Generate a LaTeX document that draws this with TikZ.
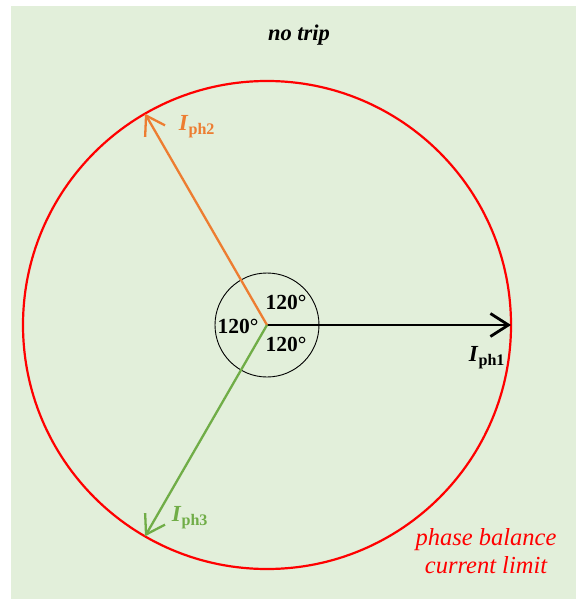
\documentclass[tikz,border=0pt]{standalone}
\usepackage{fontspec}
\setmainfont{Liberation Serif}
\usetikzlibrary{arrows.meta,positioning}
\definecolor{bgfill}{HTML}{E2EFDA}
\definecolor{phorange}{HTML}{ED7D31}
\definecolor{phgreen}{HTML}{70AD47}

\begin{document}
\begin{tikzpicture}[
    x=1pt, y=-1pt,
    phasor/.style={line width=2.3pt, -{Straight Barb[length=18pt, width=23pt]}},
    anglbl/.style={font=\fontsize{21.5}{24}\selectfont\bfseries, inner sep=0pt},
    phlbl/.style={font=\fontsize{23}{25}\selectfont\bfseries, inner sep=0pt}
]
    \useasboundingbox (0,0) rectangle (576,601);
    \fill[bgfill] (11,6) rectangle (576,599);
    \coordinate (O) at (267,325);
    % limit circle and angle circle
    \node [circle, draw=red, line width=2.2pt, minimum size=488pt, inner sep=0pt, outer sep=0pt] (lim) at (O) {};
    \node [circle, draw, line width=0.9pt, minimum size=104pt, inner sep=0pt, outer sep=0pt] (ang) at (O) {};
    % phasors
    \draw [phasor, line width=2.8pt] (O) -- (lim.east);
    \draw [phasor, phorange] (O) -- (lim.120);
    \draw [phasor, phgreen] (O) -- (lim.240);
    % labels
    \node [anglbl] (a1) at (286,302) {120°};
    \node [anglbl] (a2) at (238,326) {120°};
    \node [anglbl] (a3) at (286,344) {120°};
    \node [phlbl] (l1) at (487,358) {\textit{I}\textsubscript{ph1}};
    \node [phlbl, phorange] (l2) at (197,127) {\textit{I}\textsubscript{ph2}};
    \node [phlbl, phgreen] (l3) at (190,518) {\textit{I}\textsubscript{ph3}};
    \node [font=\fontsize{22.5}{24}\selectfont\bfseries\itshape] (trip) at (299,35) {no trip};
    \node [font=\fontsize{24.5}{28}\selectfont\itshape, text=red, align=center, inner sep=0pt] (limtxt) at (486,551) {phase balance\\current limit};
\end{tikzpicture}
\end{document}
